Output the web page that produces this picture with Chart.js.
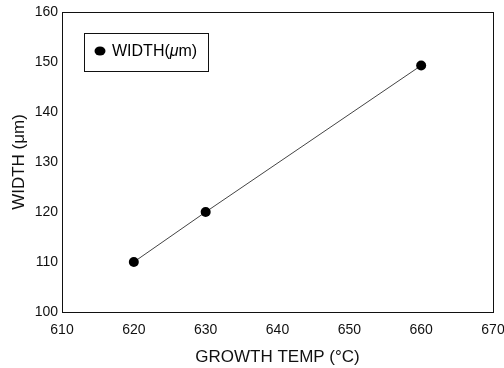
<!DOCTYPE html>
<html><head><meta charset="utf-8">
<script src="https://cdn.jsdelivr.net/npm/chart.js@4"></script>
<style>html,body{margin:0;padding:0;background:#fff}#wrap{width:504px;height:368px}</style>
</head><body><div id="wrap"><canvas id="c" width="504" height="368"></canvas></div>
<script>
const growthTemp = [620, 630, 660];
const widthUm = [110, 120, 149.3];
const xTicks = [610, 620, 630, 640, 650, 660, 670];
const yTicks = [100, 110, 120, 130, 140, 150, 160];
const seriesLabel = 'WIDTH(\u03BCm)';
const xTitle = 'GROWTH TEMP (\u00B0C)';
const yTitle = 'WIDTH (\u03BCm)';

const FONT = '"Liberation Sans", Arial, sans-serif';

const framePlugin = {
  id: 'frame',
  afterDraw(chart) {
    const {ctx, chartArea: a} = chart;
    ctx.save();
    ctx.strokeStyle = '#111';
    ctx.lineWidth = 1;
    ctx.strokeRect(a.left + 0.5, a.top + 0.5, a.right - a.left, a.bottom - a.top);
    // legend box
    const bx = 84, by = 33, bw = 124, bh = 38;
    ctx.strokeRect(bx + 0.5, by + 0.5, bw, bh);
    ctx.fillStyle = '#000';
    ctx.beginPath();
    ctx.ellipse(bx + 16, by + 18, 5.5, 4.5, 0, 0, Math.PI * 2);
    ctx.fill();
    ctx.font = '16px ' + FONT;
    ctx.textBaseline = 'middle';
    ctx.textAlign = 'left';
    const lbl = chart.data.datasets[0].label;
    const i = lbl.indexOf('(');
    const pre = lbl.slice(0, i + 1);
    const mu = lbl.charAt(i + 1);
    const post = lbl.slice(i + 2);
    let x = bx + 28;
    const y = by + 19;
    ctx.fillText(pre, x, y); x += ctx.measureText(pre).width;
    ctx.font = 'italic 16px ' + FONT;
    ctx.fillText(mu, x, y); x += ctx.measureText(mu).width;
    ctx.font = '16px ' + FONT;
    ctx.fillText(post, x, y);
    ctx.restore();
  }
};

new Chart(document.getElementById('c'), {
  type: 'scatter',
  data: {
    datasets: [{
      label: seriesLabel,
      data: growthTemp.map((t, i) => ({x: t, y: widthUm[i]})),
      showLine: true,
      borderColor: '#444',
      borderWidth: 1,
      pointRadius: 5,
      pointBackgroundColor: '#000',
      pointBorderColor: '#000',
      pointBorderWidth: 0
    }]
  },
  options: {
    responsive: false,
    animation: false,
    devicePixelRatio: 1,
    layout: {padding: {top: 12, right: 11, left: 0, bottom: 0}},
    plugins: {legend: {display: false}, tooltip: {enabled: false}},
    scales: {
      x: {
        type: 'linear', min: 610, max: 670,
        afterBuildTicks: s => { s.ticks = xTicks.map(v => ({value: v})); },
        afterFit: s => { s.height = 56; s.paddingRight = 0; s.paddingLeft = 0; },
        grid: {display: false, drawTicks: false},
        border: {display: false},
        ticks: {color: '#111', font: {family: FONT, size: 14}, padding: 10},
        title: {display: true, text: xTitle, color: '#111', font: {family: FONT, size: 17}, padding: {top: 4, bottom: 0}}
      },
      y: {
        type: 'linear', min: 100, max: 160,
        afterBuildTicks: s => { s.ticks = yTicks.map(v => ({value: v})); },
        afterFit: s => { s.width = 62; s.paddingTop = 0; s.paddingBottom = 0; },
        grid: {display: false, drawTicks: false},
        border: {display: false},
        ticks: {color: '#111', font: {family: FONT, size: 14}, padding: 4},
        title: {display: true, text: yTitle, color: '#111', font: {family: FONT, size: 17}, padding: {top: 9, bottom: 0}}
      }
    }
  },
  plugins: [framePlugin]
});
</script></body></html>
